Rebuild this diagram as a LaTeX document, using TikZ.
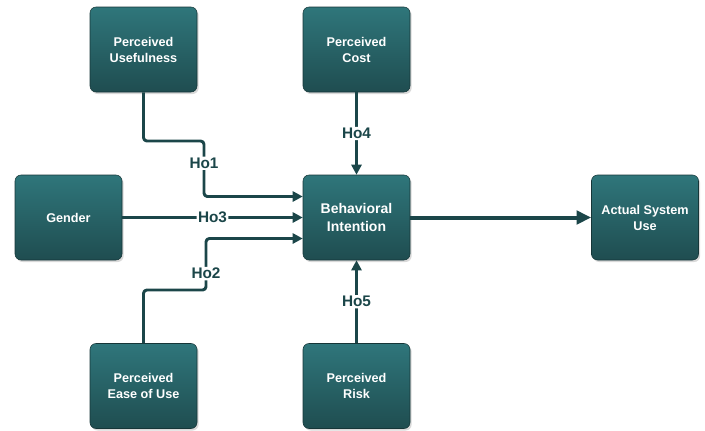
\documentclass[tikz,border=0pt]{standalone}
\usepackage{fontspec}
\setmainfont{Liberation Sans}
\usetikzlibrary{arrows.meta,shadows,calc}
\definecolor{tealtop}{RGB}{47,118,123}
\definecolor{tealbot}{RGB}{31,77,80}
\definecolor{tealline}{RGB}{27,70,73}
\tikzset{
  factor/.style={rectangle, rounded corners=4.5pt, minimum width=80.25pt, minimum height=63.75pt,
    top color=tealtop, bottom color=tealbot, draw=tealbot!70!black, line width=0.4pt,
    text=white, align=center, font=\bfseries\fontsize{9.5}{12}\selectfont,
    drop shadow={shadow xshift=1.2pt, shadow yshift=-1.5pt, opacity=0.3}},
  link/.style={line width=2.2pt, draw=tealline, rounded corners=2.5pt,
    -{Triangle[length=7.5pt,width=7.5pt]}},
  hyp/.style={fill=white, text=tealline, inner sep=1pt, font=\bfseries\fontsize{11.5}{13}\selectfont}
}
\begin{document}
\begin{tikzpicture}[x=0.75pt,y=-0.75pt, line join=round]
  \useasboundingbox (0,0) rectangle (705,430);
  \node[factor] (pu) at (143.5,49.5) {Perceived\\Usefulness};
  \node[factor] (pc) at (356.5,49.5) {Perceived\\Cost};
  \node[factor] (gen) at (68.5,217.5) {Gender};
  \node[factor, font=\bfseries\fontsize{10.5}{13}\selectfont] (bi) at (356.5,217.5) {Behavioral\\Intention};
  \node[factor] (asu) at (645,217.5) {Actual System\\Use};
  \node[factor] (peu) at (143.5,386) {Perceived\\Ease of Use};
  \node[factor] (pr) at (356.5,386) {Perceived\\Risk};
  \coordinate (k1) at (204,141);
  \coordinate (k2) at (206,290);
  \draw[link] (pu.south) |- (k1) |- node[hyp,pos=0.2]{Ho1} ($(bi.west)+(0,-21)$);
  \draw[link] (gen) -- node[hyp]{Ho3} (bi);
  \draw[link] (peu.north) |- (k2) |- node[hyp,pos=0.16]{Ho2} ($(bi.west)+(0,21)$);
  \draw[link] (pc) -- node[hyp]{Ho4} (bi);
  \draw[link] (pr) -- node[hyp]{Ho5} (bi);
  \draw[link, line width=3pt, -{Triangle[length=11pt,width=10pt]}] (bi) -- (asu);
\end{tikzpicture}
\end{document}
